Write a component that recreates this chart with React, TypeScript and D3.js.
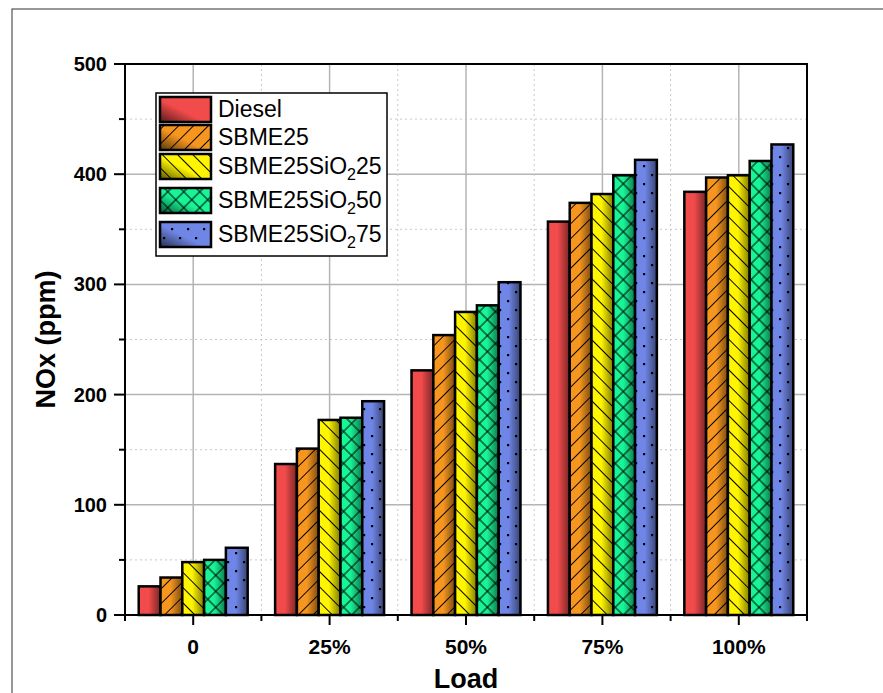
import React from "react";
import * as d3 from "d3";

const categories = ["0", "25%", "50%", "75%", "100%"];
const seriesNames = ["Diesel", "SBME25", "SBME25SiO225", "SBME25SiO250", "SBME25SiO275"];
const diesel = [26, 137, 222, 357, 384];
const sbme25 = [34, 151, 254, 374, 397];
const sio25 = [48, 177, 275, 382, 399];
const sio50 = [50, 179, 281, 399, 412];
const sio75 = [61, 194, 302, 413, 427];
const seriesValues = [diesel, sbme25, sio25, sio50, sio75];
const yTicks = [0, 100, 200, 300, 400, 500];
const yMinorTicks = [50, 150, 250, 350, 450];

const colors = ["#F24B4B", "#F7961F", "#FFF500", "#18F596", "#6F86E6"];
const patterns = ["none", "diagR", "diagL", "cross", "dots"];
const legendLabels: { main: string; sub?: string; tail?: string }[] = [
  { main: "Diesel" },
  { main: "SBME25" },
  { main: "SBME25SiO", sub: "2", tail: "25" },
  { main: "SBME25SiO", sub: "2", tail: "50" },
  { main: "SBME25SiO", sub: "2", tail: "75" },
];

const W = 883;
const H = 693;
const left = 125, right = 807, top = 64, bottom = 615;
const FONT = "Liberation Sans, Arial, sans-serif";

export default function App() {
  const x = d3.scaleBand<string>().domain(categories).range([left, right]).padding(0);
  const xi = d3
    .scaleBand<string>()
    .domain(seriesNames)
    .range([0, x.bandwidth()])
    .paddingInner(0)
    .paddingOuter(0.63);
  const y = d3.scaleLinear().domain([0, 500]).range([bottom, top]);

  const darker = (c: string, k: number) => {
    const rgb = d3.rgb(c);
    return d3.rgb(rgb.r * k, rgb.g * k, rgb.b * k).formatHex();
  };

  const boundaries = [...categories.map((c) => x(c)!), right];

  const legendY = [97, 125, 154, 188, 222];

  return (
    <svg
      width={W}
      height={H}
      style={{ position: "absolute", left: 0, top: 0, background: "#fff" }}
      fontFamily={FONT}
    >
      <defs>
        {colors.map((c, i) => (
          <linearGradient key={"g" + i} id={"bar" + i} x1="0" y1="0" x2="1" y2="0">
            <stop offset="0" stopColor={c} />
            <stop offset="0.45" stopColor={c} />
            <stop offset="1" stopColor={darker(c, 0.5)} />
          </linearGradient>
        ))}
        {colors.map((c, i) => (
          <linearGradient key={"lg" + i} id={"leg" + i} x1="0" y1="1" x2="1" y2="0">
            <stop offset="0" stopColor={darker(c, 0.35)} />
            <stop offset="0.45" stopColor={c} />
            <stop offset="1" stopColor={c} />
          </linearGradient>
        ))}
        <pattern id="diagR" width="10.5" height="10.5" patternUnits="userSpaceOnUse" patternTransform="rotate(-45)">
          <line x1="0" y1="5.25" x2="10.5" y2="5.25" stroke="#000" strokeWidth="1" />
        </pattern>
        <pattern id="diagL" width="10.8" height="10.8" patternUnits="userSpaceOnUse" patternTransform="rotate(45)">
          <line x1="0" y1="5.4" x2="10.8" y2="5.4" stroke="#000" strokeWidth="1" />
        </pattern>
        <pattern id="cross" width="11.3" height="11.3" patternUnits="userSpaceOnUse" patternTransform="rotate(45)">
          <line x1="0" y1="5.65" x2="11.3" y2="5.65" stroke="#000" strokeWidth="1" />
          <line x1="5.65" y1="0" x2="5.65" y2="11.3" stroke="#000" strokeWidth="1" />
        </pattern>
        <pattern id="dots" width="16" height="18" patternUnits="userSpaceOnUse">
          <rect x="3" y="3" width="2.2" height="2.2" fill="#000" />
          <rect x="11" y="12" width="2.2" height="2.2" fill="#000" />
        </pattern>
      </defs>

      {/* outer frame */}
      <rect x={12} y={9} width={W} height={H} fill="none" stroke="#333" strokeWidth={1} />

      {/* grid */}
      {yMinorTicks.map((t) => (
        <line key={"ym" + t} x1={left} x2={right} y1={y(t)} y2={y(t)} stroke="#c8c8c8" strokeWidth={1} strokeDasharray="2,3" />
      ))}
      {yTicks.slice(1, -1).map((t) => (
        <line key={"yg" + t} x1={left} x2={right} y1={y(t)} y2={y(t)} stroke="#b4b4b4" strokeWidth={1.5} />
      ))}
      {boundaries.slice(1, -1).map((b, i) => (
        <line key={"xb" + i} x1={b} x2={b} y1={top} y2={bottom} stroke="#c8c8c8" strokeWidth={1} strokeDasharray="2,3" />
      ))}
      {categories.map((c) => (
        <line key={"xg" + c} x1={x(c)! + x.bandwidth() / 2} x2={x(c)! + x.bandwidth() / 2} y1={top} y2={bottom} stroke="#b4b4b4" strokeWidth={1.5} />
      ))}

      {/* bars */}
      {categories.map((c, ci) => (
        <g key={"grp" + c}>
          {seriesNames.map((s, si) => {
            const bx = x(c)! + xi(s)!;
            const by = y(seriesValues[si][ci]);
            const bw = xi.bandwidth();
            const bh = bottom - by;
            return (
              <g key={s}>
                <rect x={bx} y={by} width={bw} height={bh} fill={`url(#bar${si})`} />
                {patterns[si] !== "none" && (
                  <rect x={bx} y={by} width={bw} height={bh} fill={`url(#${patterns[si]})`} />
                )}
                <rect x={bx} y={by} width={bw} height={bh} fill="none" stroke="#000" strokeWidth={2.5} />
              </g>
            );
          })}
        </g>
      ))}

      {/* axes */}
      <rect x={left} y={top} width={right - left} height={bottom - top} fill="none" stroke="#000" strokeWidth={2} />
      {yTicks.map((t) => (
        <g key={"yt" + t}>
          <line x1={left - 11} x2={left} y1={y(t)} y2={y(t)} stroke="#000" strokeWidth={2} />
          <text x={107} y={y(t)} dy="0.35em" textAnchor="end" fontSize={20} fontWeight="bold">
            {t}
          </text>
        </g>
      ))}
      {yMinorTicks.map((t) => (
        <line key={"ymt" + t} x1={left - 6} x2={left} y1={y(t)} y2={y(t)} stroke="#000" strokeWidth={2} />
      ))}
      {boundaries.map((b, i) => (
        <line key={"xbt" + i} x1={b} x2={b} y1={bottom} y2={bottom + 6} stroke="#000" strokeWidth={2} />
      ))}
      {categories.map((c) => (
        <g key={"xt" + c}>
          <line x1={x(c)! + x.bandwidth() / 2} x2={x(c)! + x.bandwidth() / 2} y1={bottom} y2={bottom + 10} stroke="#000" strokeWidth={2} />
          <text x={x(c)! + x.bandwidth() / 2} y={654} textAnchor="middle" fontSize={21} fontWeight="bold">
            {c}
          </text>
        </g>
      ))}
      <text x={(left + right) / 2} y={688} textAnchor="middle" fontSize={27} fontWeight="bold">
        Load
      </text>
      <text
        transform={`translate(55,${(top + bottom) / 2}) rotate(-90)`}
        textAnchor="middle"
        fontSize={27}
        fontWeight="bold"
      >
        NOx (ppm)
      </text>

      {/* legend */}
      <rect x={156} y={93} width={231} height={163} fill="#fff" stroke="#000" strokeWidth={1.5} />
      {legendLabels.map((l, i) => (
        <g key={"lg" + i}>
          <rect x={160} y={legendY[i]} width={51} height={25} fill={`url(#leg${i})`} />
          {patterns[i] !== "none" && (
            <rect x={160} y={legendY[i]} width={51} height={25} fill={`url(#${patterns[i]})`} />
          )}
          <rect x={160} y={legendY[i]} width={51} height={25} fill="none" stroke="#000" strokeWidth={2.5} />
          <text x={218} y={legendY[i] + 20} fontSize={23}>
            {l.main}
            {l.sub && (
              <tspan dy={6} fontSize={16}>
                {l.sub}
              </tspan>
            )}
            {l.tail && <tspan dy={-6}>{l.tail}</tspan>}
          </text>
        </g>
      ))}
    </svg>
  );
}
